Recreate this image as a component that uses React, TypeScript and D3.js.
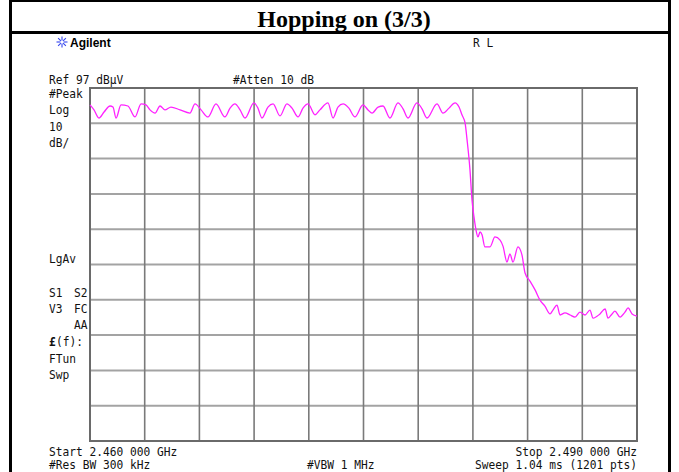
import React from "react";
import * as d3 from "d3";

// ---- data ----
const startGHz = 2.46;
const stopGHz = 2.49;
const refLevel = 97; // dBµV
const dbPerDiv = 10;
const divisions = 10;

// frequency offset from start (MHz)
const traceFreqMHz = [
  0.0, 0.22, 0.49, 0.77, 1.1, 1.26, 1.43, 1.7, 2.08, 2.47, 2.8, 3.07, 3.29, 3.57, 3.84, 4.11, 4.44, 4.94,
  5.48, 5.76, 6.09, 6.47, 6.91, 7.4, 7.68, 7.95, 8.23, 8.5, 8.99, 9.21, 9.43, 9.76, 10.04, 10.42, 10.8,
  11.08, 11.41, 11.68, 11.96, 12.34, 12.61, 13.05, 13.33, 13.6, 13.88, 14.2, 14.53, 14.97, 15.25, 15.47,
  15.8, 16.07, 16.45, 16.89, 17.17, 17.44, 17.93, 18.21, 18.48, 19.03, 19.36, 19.69, 20.02, 20.24, 20.4,
  20.57, 20.68, 20.84, 20.95, 21.06, 21.17, 21.28, 21.39, 21.5, 21.66, 21.94, 22.21, 22.49, 22.65, 22.87,
  23.03, 23.2, 23.47, 23.69, 23.86, 24.13, 24.41, 24.68, 24.95, 25.23, 25.39, 25.61, 25.78, 26.05, 26.33,
  26.6, 26.87, 27.15, 27.42, 27.59, 27.97, 28.25, 28.41, 28.63, 28.79, 29.07, 29.34, 29.51, 29.73, 30.0,
];
// level (dBµV)
const traceLevel = [
  92.2, 90.8, 88.5, 90.2, 91.9, 91.6, 88.5, 92.2, 91.9, 88.8, 92.5, 92.2, 90.8, 89.9, 91.9, 90.8, 91.6, 90.8,
  89.9, 92.5, 90.8, 88.8, 92.5, 88.8, 91.3, 92.5, 90.8, 88.5, 92.8, 91.3, 88.5, 91.6, 92.5, 89.1, 92.5,
  91.3, 88.8, 91.3, 92.5, 89.4, 90.8, 92.8, 88.5, 91.6, 92.5, 91.3, 88.8, 92.2, 90.8, 89.9,
  91.6, 91.9, 88.5, 92.8, 91.1, 88.5, 92.8, 91.1, 88.5, 92.5, 89.9, 91.3, 92.8, 91.6, 89.4,
  87.1, 82.3, 73.8, 65.3, 60.5, 56.8, 54.8, 56.2, 55.4, 52.0, 52.0, 54.8, 53.9, 52.2, 47.7,
  50.0, 47.7, 52.0, 49.7, 44.6, 42.3, 39.8, 36.9, 35.2, 33.0, 34.1, 35.5, 32.7, 33.3, 32.7,
  32.1, 33.5, 32.7, 34.1, 31.8, 33.0, 34.4, 31.8, 33.0, 33.8, 32.1, 33.5, 34.7, 33.0, 32.4,
];

const leftLabels = [
  { t: "#Peak", y: 98, x: 49 },
  { t: "Log", y: 114, x: 49 },
  { t: "10", y: 131, x: 49 },
  { t: "dB/", y: 147, x: 49 },
  { t: "LgAv", y: 263, x: 49 },
  { t: "S1", y: 297, x: 49 },
  { t: "S2", y: 297, x: 74 },
  { t: "V3", y: 313, x: 49 },
  { t: "FC", y: 313, x: 74 },
  { t: "AA", y: 329, x: 74 },
  { t: "(f):", y: 346, x: 56 },
  { t: "FTun", y: 363, x: 49 },
  { t: "Swp", y: 379, x: 49 },
];

const W = 679;
const H = 472;
const plot = { left: 90, right: 637, top: 88, bottom: 441 };
const CW = 6.75; // char width

function MonoText({ x, y, t, anchor = "start", bold = false }: any) {
  return (
    <text
      x={x}
      y={y}
      textAnchor={anchor}
      fontFamily="'DejaVu Sans Mono', monospace"
      fontSize={12}
      fontWeight={bold ? "bold" : "normal"}
      textLength={t.length * CW}
      lengthAdjust="spacingAndGlyphs"
      fill="#111"
    >
      {t}
    </text>
  );
}

export default function App() {
  const startMHz = startGHz * 1000;
  const stopMHz = stopGHz * 1000;
  const x = d3.scaleLinear().domain([startMHz, stopMHz]).range([plot.left, plot.right]);
  const y = d3
    .scaleLinear()
    .domain([refLevel - dbPerDiv * divisions, refLevel])
    .range([plot.bottom, plot.top]);

  const pts = traceFreqMHz.map((f, i) => [startMHz + f, traceLevel[i]] as [number, number]);
  const line = d3
    .line<[number, number]>()
    .x((d) => x(d[0]))
    .y((d) => y(d[1]))
    .curve(d3.curveMonotoneX);

  const xDivs = d3.range(divisions + 1).map((i) => startMHz + ((stopMHz - startMHz) * i) / divisions);
  const yDivs = d3.range(divisions + 1).map((i) => refLevel - dbPerDiv * i);

  const cx = 62;
  const cy = 42;
  const rays = d3.range(8).map((i) => (i * Math.PI) / 4);

  return (
    <svg
      width={W}
      height={H}
      style={{ position: "absolute", left: 0, top: 0, background: "#fff" }}
    >
      <rect x={0} y={0} width={W} height={H} fill="#fff" />
      {/* frame */}
      <line x1={10.5} y1={0} x2={10.5} y2={H} stroke="#000" strokeWidth={3} />
      <line x1={669.5} y1={0} x2={669.5} y2={H} stroke="#000" strokeWidth={3} />
      <line x1={9} y1={1} x2={671} y2={1} stroke="#000" strokeWidth={2} />
      <line x1={9} y1={32.5} x2={671} y2={32.5} stroke="#000" strokeWidth={3} />
      <text
        x={344}
        y={27}
        textAnchor="middle"
        fontFamily="'Liberation Serif', 'Times New Roman', serif"
        fontWeight="bold"
        fontSize={24}
        fill="#000"
      >
        Hopping on (3/3)
      </text>

      {/* logo */}
      <g stroke="#3344ee" strokeWidth={1.1}>
        {rays.map((a, i) => (
          <line
            key={i}
            x1={cx + Math.cos(a) * 1.5}
            y1={cy + Math.sin(a) * 1.5}
            x2={cx + Math.cos(a) * 5.5}
            y2={cy + Math.sin(a) * 5.5}
          />
        ))}
      </g>
      <text x={70} y={47} fontFamily="'Liberation Sans', Arial, sans-serif" fontWeight="bold" fontSize={12} fill="#000">
        Agilent
      </text>
      <MonoText x={473} y={47} t="R L" />

      <MonoText x={49} y={84} t="Ref 97 dBµV" />
      <MonoText x={233} y={84} t="#Atten 10 dB" />
      {leftLabels.map((l, i) => (
        <MonoText key={i} x={l.x} y={l.y} t={l.t} />
      ))}
      <MonoText x={49} y={346} t="£" bold />

      {/* grid */}
      <g>
        {yDivs.map((v, i) => (
          <line key={"h" + i} x1={plot.left} x2={plot.right} y1={y(v)} y2={y(v)} stroke="#a3a3a3" strokeWidth={2} />
        ))}
        {xDivs.map((v, i) => (
          <line key={"v" + i} x1={x(v)} x2={x(v)} y1={plot.top} y2={plot.bottom} stroke="#7a7a7a" strokeWidth={1.6} />
        ))}
        <rect
          x={plot.left}
          y={plot.top}
          width={plot.right - plot.left}
          height={plot.bottom - plot.top}
          fill="none"
          stroke="#6a6a6a"
          strokeWidth={2}
        />
      </g>

      <path d={line(pts) || ""} fill="none" stroke="#ff22ff" strokeWidth={1.3} strokeLinejoin="round" />

      <MonoText x={49} y={456} t="Start 2.460 000 GHz" />
      <MonoText x={637} y={456} t="Stop 2.490 000 GHz" anchor="end" />
      <MonoText x={49} y={469} t="#Res BW 300 kHz" />
      <MonoText x={307} y={469} t="#VBW 1 MHz" />
      <MonoText x={637} y={469} t="Sweep 1.04 ms (1201 pts)" anchor="end" />
    </svg>
  );
}
